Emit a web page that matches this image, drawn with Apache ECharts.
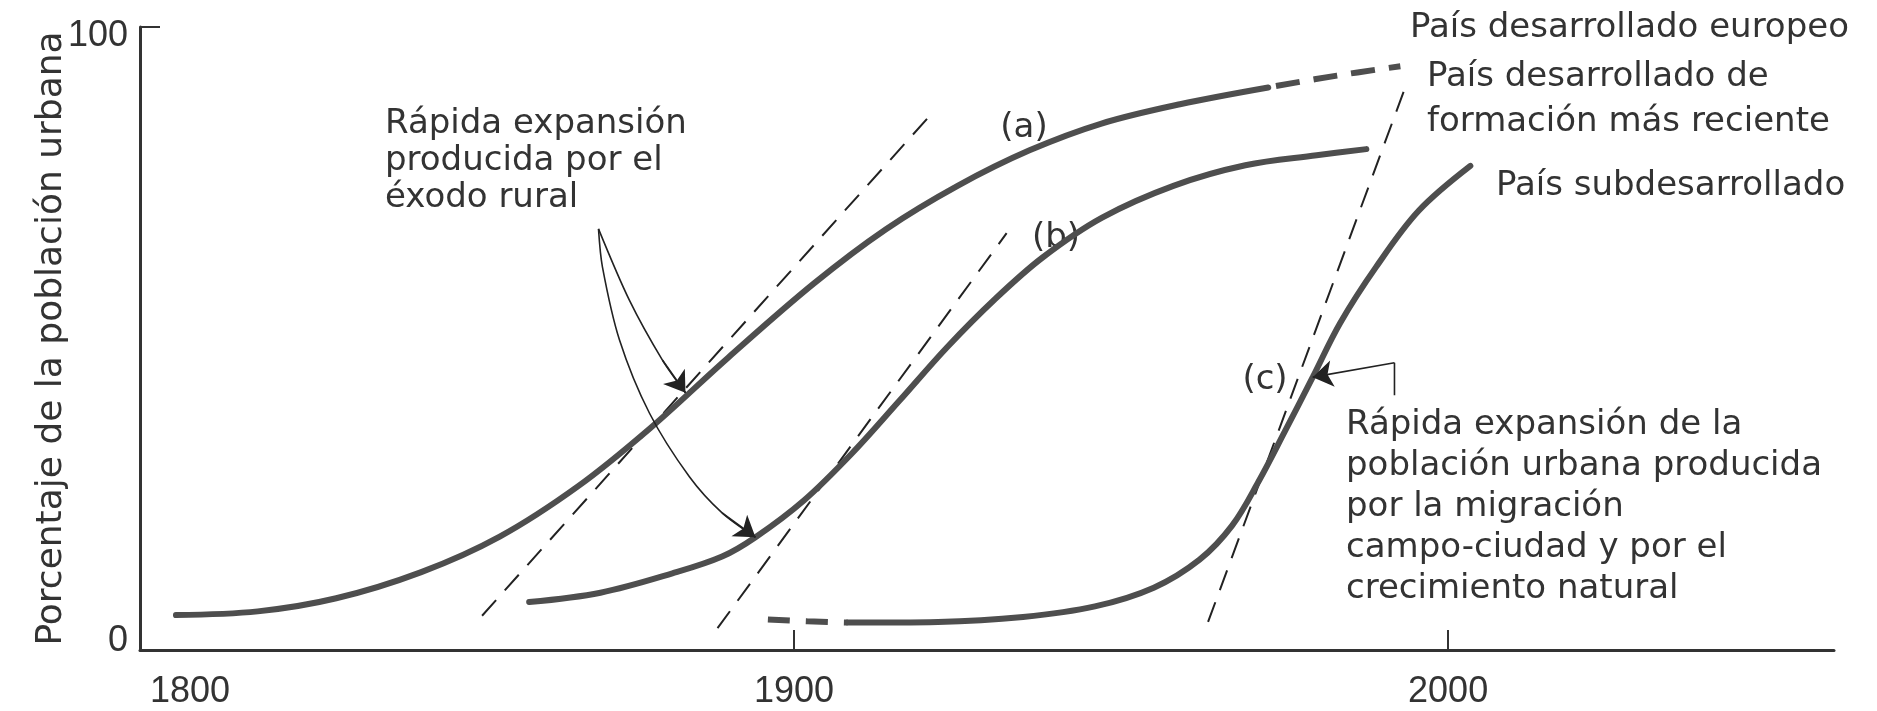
<!DOCTYPE html>
<html><head><meta charset="utf-8">
<script src="https://cdn.jsdelivr.net/npm/echarts@6/dist/echarts.min.js"></script>
<style>html,body{margin:0;padding:0;background:#fff}#c{width:1877px;height:711px}</style>
</head><body><div id="c"></div>
<script>
// ---- data (year, % urban population) ----
const xTickLabels = [1800, 1900, 2000];
const xTickMarks = [1900, 2000];
const yTickLabels = [0, 100];
const curveA = [[1805.5,5.6],[1818,6.2],[1830,8.3],[1843,12.5],[1855,18.2],[1867,26.3],[1878,35.6],[1890,47.0],[1903,58.8],[1914,67.5],[1925,74.5],[1936,80.2],[1947,84.5],[1959,87.6],[1972.5,90.3]];
const curveAProjected = [[1972.5,90.3],[1983.0,92.2],[1992.7,93.7]];
const curveB = [[1859.5,7.7],[1870.4,9.2],[1881.4,12.3],[1889.0,15.0],[1894.1,18.1],[1901.5,24.0],[1908.8,31.5],[1916.1,40.0],[1923.4,48.6],[1930.7,56.3],[1938.0,63.0],[1947.1,69.4],[1958.0,74.5],[1969.0,77.8],[1979.9,79.4],[1987.5,80.4]];
const curveCEarly = [[1896.0,4.9],[1902.0,4.6],[1908.2,4.4]];
const curveC = [[1908.2,4.4],[1922,4.5],[1935,5.3],[1946,7.0],[1955,10.0],[1962,14.5],[1967,20.0],[1971,27.0],[1975,35.0],[1979.3,43.8],[1983.5,52.5],[1989,61.5],[1995.5,70.5],[2003.4,77.7]];
const tangentA = [[1852.3,5.5],[1920.7,85.7]];
const tangentB = [[1888.3,3.5],[1932.5,66.9]];
const tangentC = [[1963.3,4.5],[1993.3,89.9]];
const arrowToA = [[1870.1,67.6],[1874.8,56.2],[1879.9,46.5],[1883.4,41.3]];
const arrowToB = [[1870.1,67.6],[1870.7,61.5],[1873.3,49.8],[1877.9,38.0],[1884.0,27.8],[1889.0,22.0],[1894.1,18.1]];
const bracketC = [[1991.8,40.9],[1991.8,46.1]];
const arrowToC = [[1991.8,46.1],[1979.3,43.8]];

// ---- texts ----
const yAxisName = 'Porcentaje de la población urbana';
const noteRural = 'Rápida expansión\nproducida por el\néxodo rural';
const noteNatural = 'Rápida expansión de la\npoblación urbana producida\npor la migración\ncampo-ciudad y por el\ncrecimiento natural';
const labelA = '(a)', labelB = '(b)', labelC = '(c)';
const nameA = 'País desarrollado europeo';
const nameB = 'País desarrollado de\nformación más reciente';
const nameC = 'País subdesarrollado';

const TXT = '#333';
const CURVE = '#4e4e4e';
const FONT = '"DejaVu Sans", sans-serif';
const NUMFONT = '"Liberation Sans", Arial, sans-serif';
const FS = 34;
const NFS = 36;

function last2(a){ const n=a.length; return [a[n-2], a[n-1]]; }

const curveStyle = {color: CURVE, width: 6, cap: 'round'};
const thinDash = {color: '#222', width: 2, type: [21, 13]};
const thin = {color: '#222', width: 1.6};

const chart = echarts.init(document.getElementById('c'), null, {renderer: 'canvas'});
chart.setOption({
  animation: false,
  backgroundColor: '#fff',
  grid: {left: 140, right: 43, top: 27, bottom: 61, containLabel: false},
  xAxis: {
    type: 'value', min: 1800, max: 2059,
    axisLine: {show: true, lineStyle: {color: TXT, width: 3}},
    axisTick: {show: true, inside: true, length: 20, lineStyle: {color: TXT, width: 2}, customValues: xTickMarks},
    axisLabel: {
      customValues: xTickLabels, showMinLabel: true, showMaxLabel: true,
      fontSize: NFS, fontFamily: NUMFONT, color: TXT, margin: 24,
      formatter: v => v === xTickLabels[0] ? '{f|' + v + '}' : String(v),
      rich: {f: {fontSize: NFS, fontFamily: NUMFONT, color: TXT, padding: [0, 0, 0, 100]}}
    },
    splitLine: {show: false}
  },
  yAxis: {
    type: 'value', min: 0, max: 100, interval: 100,
    name: yAxisName, nameLocation: 'middle', nameGap: 70, nameRotate: 90, nameMoveOverlap: false,
    nameTextStyle: {fontFamily: FONT, fontSize: 36, color: TXT},
    axisLine: {show: true, lineStyle: {color: TXT, width: 3}},
    axisTick: {show: true, inside: true, length: 20, lineStyle: {color: TXT, width: 2}, customValues: [yTickLabels[1]]},
    axisLabel: {
      fontSize: NFS, fontFamily: NUMFONT, color: TXT, margin: 12,
      formatter: v => v === yTickLabels[1] ? '{t|' + v + '}' : '{b|' + v + '}',
      rich: {
        t: {fontSize: NFS, fontFamily: NUMFONT, color: TXT, padding: [18, 0, 0, 0]},
        b: {fontSize: NFS, fontFamily: NUMFONT, color: TXT, padding: [0, 0, 18, 0]}
      }
    },
    splitLine: {show: false}
  },
  series: [
    {name: 'tA', type: 'line', data: tangentA, symbol: 'none', lineStyle: thinDash, z: 1},
    {name: 'tB', type: 'line', data: tangentB, symbol: 'none', lineStyle: thinDash, z: 1},
    {name: 'tC', type: 'line', data: tangentC, symbol: 'none', lineStyle: thinDash, z: 1},
    {name: 'a', type: 'line', data: curveA, smooth: 0.35, symbol: 'none', lineStyle: curveStyle, z: 3},
    {name: 'a2', type: 'line', data: curveAProjected, smooth: 0.4, symbol: 'none', lineStyle: Object.assign({}, curveStyle, {type: [24, 14], dashOffset: 30, cap: 'butt'}), z: 3},
    {name: 'b', type: 'line', data: curveB, smooth: 0.35, symbol: 'none', lineStyle: curveStyle, z: 3},
    {name: 'c0', type: 'line', data: curveCEarly, smooth: true, symbol: 'none', lineStyle: Object.assign({}, curveStyle, {type: [22, 16], cap: 'butt'}), z: 3},
    {name: 'c', type: 'line', data: curveC, smooth: 0.35, symbol: 'none', lineStyle: curveStyle, z: 3},
    {name: 'arrA', type: 'line', data: arrowToA, smooth: 0.3, symbol: 'none', lineStyle: thin, z: 4},
    {name: 'arrB', type: 'line', data: arrowToB, smooth: 0.3, symbol: 'none', lineStyle: thin, z: 4},
    {name: 'brC', type: 'line', data: bracketC, symbol: 'none', lineStyle: thin, z: 4},
    {name: 'heads', type: 'lines', coordinateSystem: 'cartesian2d', z: 5,
      symbol: ['none', 'arrow'], symbolSize: 20,
      lineStyle: {color: '#222', width: 1.6, opacity: 1},
      data: [{coords: last2(arrowToA)}, {coords: last2(arrowToB)}, {coords: arrowToC}]
    }
  ],
  graphic: [
    {type: 'text', x: 385, y: 106, style: {text: noteRural, fontFamily: FONT, fontSize: FS, fill: TXT, lineHeight: 37, align: 'left', verticalAlign: 'top'}},
    {type: 'text', x: 1346, y: 405, style: {text: noteNatural, fontFamily: FONT, fontSize: FS, fill: TXT, lineHeight: 41, align: 'left', verticalAlign: 'top'}},
    {type: 'text', x: 1024, y: 128, style: {text: labelA, fontFamily: FONT, fontSize: FS, fill: TXT, align: 'center', verticalAlign: 'middle'}},
    {type: 'text', x: 1056, y: 238, style: {text: labelB, fontFamily: FONT, fontSize: FS, fill: TXT, align: 'center', verticalAlign: 'middle'}},
    {type: 'text', x: 1265, y: 380, style: {text: labelC, fontFamily: FONT, fontSize: FS, fill: TXT, align: 'center', verticalAlign: 'middle'}},
    {type: 'text', x: 1410, y: 10, style: {text: nameA, fontFamily: FONT, fontSize: FS, fill: TXT, lineHeight: 37, align: 'left', verticalAlign: 'top'}},
    {type: 'text', x: 1427, y: 55, style: {text: nameB, fontFamily: FONT, fontSize: FS, fill: TXT, lineHeight: 45, align: 'left', verticalAlign: 'top'}},
    {type: 'text', x: 1496, y: 168, style: {text: nameC, fontFamily: FONT, fontSize: FS, fill: TXT, lineHeight: 37, align: 'left', verticalAlign: 'top'}}
  ]
});
</script></body></html>
